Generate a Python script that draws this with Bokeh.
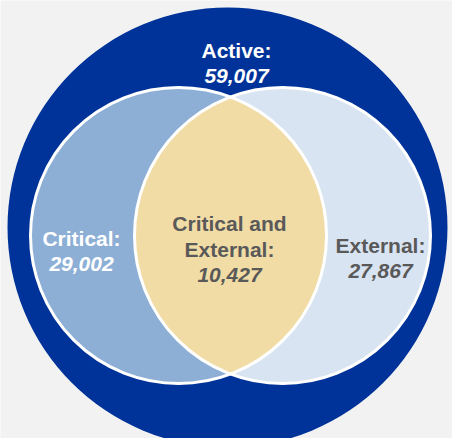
from bokeh.plotting import figure
from bokeh.models import Range1d, ColumnDataSource
from bokeh.core.properties import value
from bokeh.embed import file_html
from bokeh.resources import INLINE
import numpy as np

# ---- data ----
set_labels = ["Active:", "Critical:", "Critical and\nExternal:", "External:"]
set_counts = [59007, 29002, 10427, 27867]

# ---- layout (pixel coordinates, y down) ----
W, H = 452, 438
outer_c = (227, 227)
outer_r = 220
left_c = (178, 235)
right_c = (282, 235)
inner_r = 148

label_x = [236, 81, 229, 380]
# baselines of the label lines (first line of each label)
label_y0 = [50, 238, 223, 245]
line_h = 25.5
label_color = ["white", "white", "#595959", "#595959"]

p = figure(width=W, height=H, output_backend="svg", toolbar_location=None,
           x_range=Range1d(0, W), y_range=Range1d(H, 0), min_border=0,
           background_fill_color="#f2f2f2", border_fill_color="#f2f2f2")
p.axis.visible = False
p.grid.visible = False
p.outline_line_color = None

# outer circle
p.circle(x=[outer_c[0]], y=[outer_c[1]], radius=outer_r,
         fill_color="#003399", line_color=None)

# inner circles fills
p.circle(x=[left_c[0]], y=[left_c[1]], radius=inner_r,
         fill_color="#8dafd6", line_color=None)
p.circle(x=[right_c[0]], y=[right_c[1]], radius=inner_r,
         fill_color="#d9e4f2", line_color=None)

# lens (intersection)
d = (right_c[0] - left_c[0]) / 2.0
half = np.arccos(d / inner_r)
t1 = np.linspace(-half, half, 120)  # arc of left circle (right side)
xs1 = left_c[0] + inner_r * np.cos(t1)
ys1 = left_c[1] + inner_r * np.sin(t1)
t2 = np.linspace(np.pi - half, np.pi + half, 120)[::-1]
t2 = np.linspace(np.pi + half, np.pi - half, 120)
xs2 = right_c[0] + inner_r * np.cos(t2)
ys2 = right_c[1] + inner_r * np.sin(t2)
p.patch(x=np.concatenate([xs1, xs2]), y=np.concatenate([ys1, ys2]),
        fill_color="#f2dca5", line_color=None)

# white outlines
p.circle(x=[left_c[0], right_c[0]], y=[left_c[1], right_c[1]], radius=inner_r,
         fill_color=None, line_color="white", line_width=3)

# labels
name_rows = dict(x=[], y=[], t=[], c=[])
num_rows = dict(x=[], y=[], t=[], c=[])
for lab, cnt, x, y0, col in zip(set_labels, set_counts, label_x, label_y0, label_color):
    lines = lab.split("\n")
    for i, ln in enumerate(lines):
        name_rows["x"].append(x)
        name_rows["y"].append(y0 + i * line_h)
        name_rows["t"].append(ln)
        name_rows["c"].append(col)
    num_rows["x"].append(x)
    num_rows["y"].append(y0 + len(lines) * line_h)
    num_rows["t"].append(f"{cnt:,}")
    num_rows["c"].append(col)

p.text(x="x", y="y", text="t", text_color="c", source=ColumnDataSource(name_rows),
       text_font=value("Liberation Sans"), text_font_style="bold",
       text_font_size="21px", text_align="center", text_baseline="alphabetic")
p.text(x="x", y="y", text="t", text_color="c", source=ColumnDataSource(num_rows),
       text_font=value("Liberation Sans"), text_font_style="bold italic",
       text_font_size="21px", text_align="center", text_baseline="alphabetic")

open("out.html", "w").write(file_html(p, INLINE))
